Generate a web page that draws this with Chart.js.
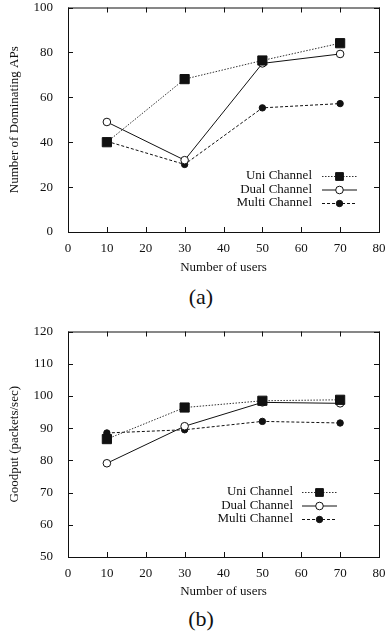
<!DOCTYPE html>
<html>
<head>
<meta charset="utf-8">
<script src="https://cdn.jsdelivr.net/npm/chart.js@4/dist/chart.umd.min.js"></script>
<style>
  body { margin: 0; background: #fff; width: 389px; height: 639px; position: relative; overflow: hidden; }
  canvas { position: absolute; left: 0; }
  .cap { position: absolute; width: 40px; text-align: center; font: 22px "Liberation Serif", serif; color: #111; }
</style>
</head>
<body>
<canvas id="chartA" width="389" height="277" style="top:0px"></canvas>
<div class="cap" style="left:181px; top:284px">(a)</div>
<canvas id="chartB" width="389" height="277" style="top:324px"></canvas>
<div class="cap" style="left:181px; top:606px">(b)</div>
<script>
// data
const users = [10, 30, 50, 70];
const seriesNames = ["Uni Channel", "Dual Channel", "Multi Channel"];

const apsUni = [40, 68.1, 76.4, 84.1];
const apsDual = [49, 32, 75.1, 79.3];
const apsMulti = [40.4, 30.1, 55.3, 57.2];

const goodUni = [86.6, 96.4, 98.5, 98.8];
const goodDual = [79.1, 90.6, 98, 97.7];
const goodMulti = [88.5, 89.5, 92.1, 91.6];

const FONT = "'Liberation Serif', 'Times New Roman', serif";
const INK = "#111";

const styles = [
    { borderColor: "#333", borderDash: [1.5, 1.5], pointStyle: "rect", pointRadius: 6.5, pointBackgroundColor: INK, pointBorderColor: INK },
    { borderColor: INK, borderDash: [], pointStyle: "circle", pointRadius: 3.8, pointBackgroundColor: "#fff", pointBorderColor: INK },
    { borderColor: INK, borderDash: [3, 2], pointStyle: "circle", pointRadius: 3.2, pointBackgroundColor: INK, pointBorderColor: INK },
];

function toXY(vals) {
    return vals.map((v, i) => ({ x: users[i], y: v }));
}

// frame with gnuplot-like inner ticks
const framePlugin = {
    id: "frame",
    afterDraw(chart) {
        const { ctx, chartArea: a, scales } = chart;
        ctx.save();
        ctx.strokeStyle = INK;
        ctx.lineWidth = 1;
        ctx.strokeRect(a.left + 0.5, a.top + 0.5, a.right - a.left, a.bottom - a.top);
        const tl = 5;
        ctx.beginPath();
        scales.x.ticks.forEach(t => {
            const x = Math.round(scales.x.getPixelForValue(t.value)) + 0.5;
            ctx.moveTo(x, a.bottom); ctx.lineTo(x, a.bottom - tl);
            ctx.moveTo(x, a.top); ctx.lineTo(x, a.top + tl);
        });
        scales.y.ticks.forEach(t => {
            const y = Math.round(scales.y.getPixelForValue(t.value)) + 0.5;
            ctx.moveTo(a.left, y); ctx.lineTo(a.left + tl, y);
            ctx.moveTo(a.right, y); ctx.lineTo(a.right - tl, y);
        });
        ctx.stroke();
        ctx.restore();
    }
};

// legend inside the plot, text left of the line sample
const keyPlugin = {
    id: "key",
    afterDatasetsDraw(chart, args, opts) {
        const { ctx, chartArea: a } = chart;
        ctx.save();
        ctx.font = "13px " + FONT;
        ctx.textAlign = "right";
        ctx.textBaseline = "middle";
        chart.data.datasets.forEach((ds, i) => {
            const y = a.bottom - opts.fromBottom + i * opts.gap;
            const tx = a.right - opts.textFromRight;
            ctx.fillStyle = INK;
            ctx.fillText(ds.label, tx, y);
            const x1 = tx + opts.sampleGap, x2 = x1 + opts.sampleLen;
            ctx.strokeStyle = ds.borderColor;
            ctx.lineWidth = 1;
            ctx.setLineDash(ds.borderDash);
            ctx.beginPath();
            ctx.moveTo(x1, y + 0.5); ctx.lineTo(x2, y + 0.5);
            ctx.stroke();
            ctx.setLineDash([]);
            ctx.fillStyle = ds.pointBackgroundColor;
            ctx.strokeStyle = ds.pointBorderColor;
            Chart.helpers.drawPoint(ctx, {
                pointStyle: ds.pointStyle,
                radius: ds.pointStyle === "rect" ? 5.5 : ds.pointRadius,
                borderWidth: 1,
                rotation: 0
            }, (x1 + x2) / 2, y + 0.5);
        });
        ctx.restore();
    }
};

function makeChart(id, uni, dual, multi, yMin, yMax, yStep, yTitle, xHeight, key) {
    const sets = [uni, dual, multi];
    new Chart(document.getElementById(id), {
        type: "line",
        data: {
            datasets: sets.map((vals, i) => ({
                label: seriesNames[i],
                data: toXY(vals),
                borderWidth: 1,
                pointBorderWidth: 1,
                tension: 0,
                fill: false,
                ...styles[i]
            }))
        },
        options: {
            responsive: false,
            animation: false,
            layout: { padding: { top: 0, right: 10, left: 0, bottom: 0 } },
            plugins: {
                legend: { display: false },
                tooltip: { enabled: false },
                key: key
            },
            scales: {
                x: {
                    type: "linear",
                    min: 0, max: 80,
                    ticks: { stepSize: 10, padding: 1, color: INK, font: { family: FONT, size: 13 }, maxRotation: 0 },
                    grid: { display: false },
                    border: { display: false },
                    title: { display: true, text: "Number of users", color: INK, font: { family: FONT, size: 13 }, padding: { top: 0, bottom: 2 } },
                    afterFit(s) { s.height = xHeight; }
                },
                y: {
                    min: yMin, max: yMax,
                    ticks: { stepSize: yStep, padding: 7, color: INK, font: { family: FONT, size: 13 } },
                    grid: { display: false },
                    border: { display: false },
                    title: { display: true, text: yTitle, color: INK, font: { family: FONT, size: 13 }, padding: { top: 7, bottom: 0 } },
                    afterFit(s) { s.width = 68; s.paddingTop = 7; s.paddingBottom = 0; }
                }
            }
        },
        plugins: [framePlugin, keyPlugin]
    });
}

makeChart("chartA", apsUni, apsDual, apsMulti, 0, 100, 20, "Number of Dominating APs", 45,
    { fromBottom: 56, gap: 13.5, textFromRight: 67, sampleGap: 10, sampleLen: 35 });
makeChart("chartB", goodUni, goodDual, goodMulti, 50, 120, 10, "Goodput (packets/sec)", 44,
    { fromBottom: 65, gap: 13.5, textFromRight: 86, sampleGap: 9, sampleLen: 35 });
</script>
</body>
</html>
